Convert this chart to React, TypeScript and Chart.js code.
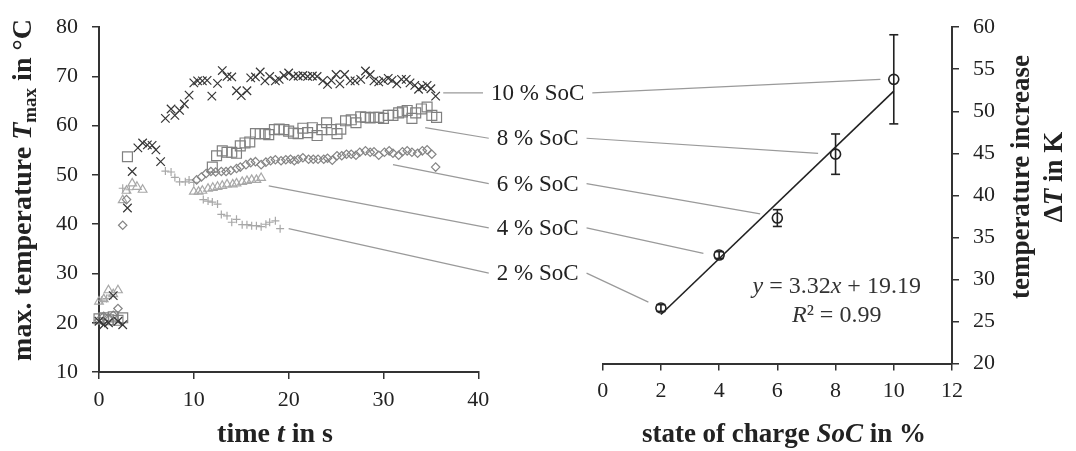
import React, { useEffect, useRef } from 'react';
import { Chart, registerables } from 'chart.js';

Chart.register(...registerables);

const FONT = "'Liberation Serif', 'Times New Roman', serif";

// ---------- left chart: max. temperature over time, [t in s, T in °C] ----------
const soc10: number[][] = [
  [0, 20.3], [0.5, 19.6], [1, 20.0], [1.5, 25.5], [2, 20.3], [2.5, 19.6], [3, 43.3], [3.5, 50.7],
  [4.1, 55.5], [4.6, 56.5], [5.1, 56.1], [5.6, 56.0], [6, 55.1], [6.5, 52.7], [7, 61.5], [7.6, 63.4],
  [8, 62.1], [8.5, 63.1], [9, 64.4], [9.5, 66.2], [10, 68.7], [10.4, 69.1], [10.9, 69.1], [11.4, 69.2],
  [11.9, 66.0], [12.5, 68.6], [13, 71.2], [13.5, 70.0], [14, 69.9], [14.5, 67.1], [15, 66.1], [15.6, 67.1],
  [16, 69.7], [16.5, 69.9], [17, 70.9], [17.5, 69.1], [18, 70.0], [18.6, 69.1], [19, 69.4], [19.5, 70.2],
  [20, 70.7], [20.5, 70.0], [21, 70.1], [21.5, 70.2], [22, 70.0], [22.5, 70.1], [23, 70.0], [23.6, 69.1],
  [24.1, 68.4], [24.5, 69.2], [25, 70.4], [25.4, 68.5], [25.9, 70.4], [26.5, 69.1], [27, 69.1], [27.6, 69.4],
  [28.1, 71.1], [28.6, 70.4], [29, 69.1], [29.5, 68.9], [30, 69.2], [30.5, 69.6], [30.9, 69.2], [31.4, 68.5],
  [31.9, 69.4], [32.4, 69.4], [32.8, 68.7], [33.3, 68.2], [33.7, 67.4], [34.1, 67.9], [34.6, 68.2], [35, 67.5],
  [35.5, 66.0],
];
const soc8: number[][] = [
  [0, 20.8], [0.5, 21.0], [1, 20.6], [1.5, 21.2], [2, 20.5], [2.5, 21.0], [3, 53.7], [11.95, 51.6],
  [12.4, 53.9], [13, 54.9], [13.5, 54.6], [14, 54.6], [14.5, 54.4], [14.9, 55.9], [15.4, 56.5], [15.9, 56.7],
  [16.5, 58.4], [17, 58.4], [17.5, 58.4], [17.9, 58.2], [18.5, 59.2], [19, 59.3], [19.5, 59.2], [20, 58.9],
  [20.5, 58.5], [21, 58.4], [21.5, 59.5], [22, 58.6], [22.5, 59.6], [23, 58.0], [23.5, 59.2], [24, 60.6],
  [24.5, 59.2], [25.1, 58.4], [25.5, 59.3], [26, 61.0], [26.6, 61.2], [27.1, 60.6], [27.6, 61.8], [28.1, 61.7],
  [28.6, 61.6], [29, 61.7], [29.5, 61.7], [30, 61.5], [30.5, 62.1], [31, 62.1], [31.6, 62.6], [32, 62.8],
  [32.5, 63.1], [33, 61.5], [33.4, 62.6], [34, 63.4], [34.6, 63.8], [35.1, 62.1], [35.6, 61.7],
];
const soc6: number[][] = [
  [0, 20.5], [0.5, 21.3], [1, 21.0], [1.5, 21.5], [2, 22.9], [2.5, 39.8], [2.9, 45.0], [10.3, 49.0],
  [10.8, 49.6], [11.3, 50.3], [11.8, 50.7], [12.3, 50.6], [12.9, 50.7], [13.4, 50.7], [13.9, 50.9], [14.5, 51.3],
  [14.9, 51.6], [15.5, 52.1], [16, 52.5], [16.5, 52.7], [17.1, 52.1], [17.6, 52.6], [18.1, 52.9], [18.6, 53.1],
  [19.2, 52.9], [19.7, 53.1], [20.2, 53.2], [20.6, 52.9], [21, 53.2], [21.5, 53.5], [22.1, 53.2], [22.6, 53.2],
  [23.1, 53.2], [23.7, 53.2], [24.1, 53.4], [24.6, 53.0], [25.1, 53.9], [25.6, 53.9], [26.1, 54.2], [26.6, 54.2],
  [27.1, 54.0], [27.5, 54.6], [28.1, 54.9], [28.6, 54.6], [29, 54.7], [29.5, 54.0], [30.1, 54.6], [30.6, 54.9],
  [31, 54.4], [31.6, 54.0], [32, 54.7], [32.5, 54.9], [33, 54.6], [33.6, 54.4], [34.1, 54.9], [34.6, 55.1],
  [35.1, 54.2], [35.5, 51.6],
];
const soc4: number[][] = [
  [0, 24.3], [0.5, 24.8], [1, 26.6], [1.5, 25.8], [2, 26.6], [2.5, 44.9], [2.9, 46.8], [3.5, 48.3],
  [4.0, 47.6], [4.6, 47.0], [10, 46.6], [10.5, 46.6], [10.9, 46.8], [11.5, 47.2], [12, 47.4], [12.5, 47.6],
  [13, 47.8], [13.5, 48.1], [14.1, 48.1], [14.5, 48.3], [15.1, 48.6], [15.6, 48.8], [16.1, 49.0], [16.6, 49.0],
  [17.1, 49.4],
];
const soc2: number[][] = [
  [0.3, 24.6], [0.8, 24.9], [1.3, 25.6], [1.8, 20.5], [2.5, 47.3], [3.2, 47.0], [7, 50.8], [7.6, 50.6],
  [8, 49.5], [8.5, 48.6], [9.1, 48.6], [9.5, 49.0], [10, 48.5], [11, 45.0], [11.5, 44.7], [11.95, 44.5],
  [12.5, 44.1], [12.9, 42.0], [13.5, 41.7], [14, 40.4], [14.5, 41.0], [15.1, 39.9], [15.6, 39.9], [16.1, 39.7],
  [16.6, 39.7], [17.1, 39.5], [17.6, 40.0], [18, 40.4], [18.6, 40.7], [19.1, 39.1],
];

// ---------- right chart: temperature increase over state of charge ----------
const socX = [2, 4, 6, 8, 10];
const deltaT = [26.6, 32.9, 37.3, 44.9, 53.8];
const errLow = [26.2, 32.5, 36.3, 42.5, 48.5];
const errHigh = [27.0, 33.3, 38.3, 47.3, 59.1];
const fitX = [2, 10];
const fitY = [25.83, 52.39];

// ---------- tick settings ----------
const timeTicks = { min: 0, max: 40, step: 10 };
const tempTicks = { min: 10, max: 80, step: 10 };
const socTicks = { min: 0, max: 12, step: 2 };
const dtTicks = { min: 20, max: 60, step: 5 };

// ---------- annotations (labels + leader lines) ----------
const socLabels = ['10 % SoC', '8 % SoC', '6 % SoC', '4 % SoC', '2 % SoC'];
const labelTime = 46.26; // horizontal label centre, in left-chart time units
const labelTemp = [66.65, 57.46, 48.26, 39.27, 30.07];
const leaderLeftTime = [36.3, 34.4, 31.0, 17.9, 20.0];
const leaderLeftTemp = [66.65, 59.6, 52.1, 47.8, 39.1];
const leaderRightSoc = [9.54, 7.4, 5.41, 3.46, 1.57];
const leaderRightDT = [53.8, 45.0, 37.8, 33.1, 27.3];

const eqLine1 = [['y', 'i'], [' = 3.32', 'n'], ['x', 'i'], [' + 19.19', 'n']];
const eqLine2 = [['R', 'i'], ['² = 0.99', 'n']];

type Seg = { t: string; f: string; dy?: number };

function drawRich(ctx: CanvasRenderingContext2D, segs: Seg[], x: number, y: number, angle: number) {
  ctx.save();
  ctx.translate(x, y);
  ctx.rotate(angle);
  ctx.textAlign = 'left';
  ctx.textBaseline = 'alphabetic';
  let total = 0;
  const ws = segs.map((s) => {
    ctx.font = s.f;
    const w = ctx.measureText(s.t).width;
    total += w;
    return w;
  });
  let cx = -total / 2;
  segs.forEach((s, i) => {
    ctx.font = s.f;
    ctx.fillText(s.t, cx, s.dy || 0);
    cx += ws[i];
  });
  ctx.restore();
}

const B = `bold 27px ${FONT}`;
const BI = `bold italic 27px ${FONT}`;
const BL = `bold 28px ${FONT}`;
const BLI = `bold italic 28px ${FONT}`;
const BS = `bold 19px ${FONT}`;

const RIGHT_SHIFT = 8.5; // right panel sits slightly higher than the left one

const customPlugin = {
  id: 'custom',
  afterLayout(chart: any) {
    const y2 = chart.scales.y2;
    const x2 = chart.scales.x2;
    y2.bottom -= RIGHT_SHIFT;
    y2.height = y2.bottom - y2.top;
    y2.configure();
    y2._gridLineItems = null;
    y2._labelItems = null;
    x2.top -= RIGHT_SHIFT;
    x2.bottom -= RIGHT_SHIFT;
    x2.configure();
    x2._gridLineItems = null;
    x2._labelItems = null;
  },
  afterDatasetsDraw(chart: any) {
    const { ctx } = chart;
    const { x1, y1, x2, y2 } = chart.scales;
    ctx.save();
    ctx.font = `23px ${FONT}`;
    ctx.fillStyle = '#222';
    ctx.textAlign = 'center';
    ctx.textBaseline = 'middle';
    ctx.strokeStyle = '#9a9a9a';
    ctx.lineWidth = 1.2;
    socLabels.forEach((lab, i) => {
      const cx = x1.getPixelForValue(labelTime);
      const cy = y1.getPixelForValue(labelTemp[i]);
      const w = ctx.measureText(lab).width;
      ctx.fillText(lab, cx, cy + 1);
      ctx.beginPath();
      ctx.moveTo(x1.getPixelForValue(leaderLeftTime[i]), y1.getPixelForValue(leaderLeftTemp[i]));
      ctx.lineTo(cx - w / 2 - 8, cy);
      ctx.moveTo(cx + w / 2 + 8, cy);
      ctx.lineTo(x2.getPixelForValue(leaderRightSoc[i]), y2.getPixelForValue(leaderRightDT[i]));
      ctx.stroke();
    });
    ctx.restore();
  },
  afterDraw(chart: any) {
    const { ctx } = chart;
    ctx.save();
    ctx.fillStyle = '#222';
    drawRich(ctx, [
      { t: 'max. temperature ', f: BL },
      { t: 'T', f: BLI },
      { t: 'max', f: BS, dy: 5 },
      { t: ' in °C', f: BL },
    ], 31, 190, -Math.PI / 2);
    drawRich(ctx, [{ t: 'temperature increase', f: B }], 1029, 177, -Math.PI / 2);
    drawRich(ctx, [
      { t: 'Δ', f: B },
      { t: 'T', f: BI },
      { t: ' in K', f: B },
    ], 1062, 177, -Math.PI / 2);
    drawRich(ctx, [
      { t: 'time ', f: BL },
      { t: 't', f: BLI },
      { t: ' in s', f: BL },
    ], 275, 441.5, 0);
    drawRich(ctx, [
      { t: 'state of charge ', f: B },
      { t: 'SoC', f: BI },
      { t: ' in %', f: B },
    ], 784, 441.5, 0);
    ctx.fillStyle = '#333';
    const eqFont = (k: string) => (k === 'i' ? `italic 24px ${FONT}` : `24px ${FONT}`);
    drawRich(ctx, eqLine1.map(([t, k]) => ({ t, f: eqFont(k) })), 836.7, 293.3, 0);
    drawRich(ctx, eqLine2.map(([t, k]) => ({ t, f: eqFont(k) })), 836.7, 321.7, 0);
    ctx.restore();
  },
};

const toXY = (pairs: number[][]) => pairs.map(([x, y]) => ({ x, y }));

function leftSeries(label: string, pairs: number[][], style: string, color: string, radius: number) {
  return {
    type: 'scatter',
    label,
    data: toXY(pairs),
    xAxisID: 'x1',
    yAxisID: 'y1',
    pointStyle: style,
    pointRadius: radius,
    pointBorderColor: color,
    pointBackgroundColor: 'rgba(0,0,0,0)',
    pointBorderWidth: 1.2,
    showLine: false,
    clip: false,
  };
}

const tickFont = { family: FONT, size: 22 };
const AXIS = '#333';

function axisCommon(extra: any) {
  return {
    type: 'linear',
    grid: { drawOnChartArea: false, drawTicks: true, tickLength: 7, color: AXIS, lineWidth: 1.5 },
    border: { display: true, color: AXIS, width: 2 },
    ...extra,
  };
}

export default function App() {
  const ref = useRef<HTMLCanvasElement>(null);
  useEffect(() => {
    const canvas = ref.current;
    if (!canvas) return;

    const errData: any[] = [];
    socX.forEach((s, i) => {
      errData.push({ x: s, y: errLow[i] }, { x: s, y: errHigh[i] }, { x: s, y: null });
    });

    const chart = new Chart(canvas, {
      type: 'scatter',
      data: {
        datasets: [
          leftSeries('10 % SoC', soc10, 'crossRot', '#363636', 6),
          leftSeries('8 % SoC', soc8, 'rect', '#808080', 7),
          leftSeries('6 % SoC', soc6, 'rectRot', '#858585', 4.2),
          leftSeries('4 % SoC', soc4, 'triangle', '#a8a8a8', 5),
          leftSeries('2 % SoC', soc2, 'cross', '#a8a8a8', 4),
          {
            type: 'line',
            label: 'fit',
            data: fitX.map((x, i) => ({ x, y: fitY[i] })),
            xAxisID: 'x2',
            yAxisID: 'y2',
            borderColor: '#222',
            borderWidth: 1.6,
            pointRadius: 0,
            clip: false,
          },
          {
            type: 'line',
            label: 'error',
            data: errData,
            xAxisID: 'x2',
            yAxisID: 'y2',
            borderColor: '#222',
            borderWidth: 1.6,
            spanGaps: false,
            pointStyle: 'line',
            pointRadius: 4.5,
            pointBorderColor: '#222',
            pointBorderWidth: 1.6,
            clip: false,
          },
          {
            type: 'scatter',
            label: 'mean',
            data: socX.map((x, i) => ({ x, y: deltaT[i] })),
            xAxisID: 'x2',
            yAxisID: 'y2',
            pointStyle: 'circle',
            pointRadius: 5,
            pointBorderColor: '#222',
            pointBackgroundColor: 'rgba(0,0,0,0)',
            pointBorderWidth: 1.6,
            showLine: false,
            clip: false,
          },
        ] as any,
      },
      options: {
        responsive: false,
        animation: false,
        devicePixelRatio: 1,
        layout: { padding: { left: 0, right: 0, top: 17, bottom: 0 } },
        plugins: { legend: { display: false }, tooltip: { enabled: false }, title: { display: false } },
        scales: {
          x1: axisCommon({
            position: 'bottom',
            stack: 'xs',
            stackWeight: 379.3,
            min: timeTicks.min,
            max: timeTicks.max,
            ticks: { stepSize: timeTicks.step, font: tickFont, color: '#222', padding: 8, maxRotation: 0, autoSkip: false },
            afterFit: (s: any) => { s.height = 79; },
          }),
          gap: {
            type: 'linear',
            position: 'bottom',
            stack: 'xs',
            stackWeight: 124.4,
            min: 0,
            max: 1,
            ticks: { display: false },
            grid: { display: false },
            border: { display: false },
            afterFit: (s: any) => { s.height = 79; },
          },
          x2: axisCommon({
            position: 'bottom',
            stack: 'xs',
            stackWeight: 349.3,
            min: socTicks.min,
            max: socTicks.max,
            ticks: { stepSize: socTicks.step, font: tickFont, color: '#222', padding: 8, maxRotation: 0, autoSkip: false },
            afterFit: (s: any) => { s.height = 79; },
          }),
          y1: axisCommon({
            position: 'left',
            min: tempTicks.min,
            max: tempTicks.max,
            ticks: { stepSize: tempTicks.step, font: tickFont, color: '#222', padding: 14 },
            afterFit: (s: any) => { s.width = 99; },
          }),
          y2: axisCommon({
            position: 'right',
            min: dtTicks.min,
            max: dtTicks.max,
            ticks: { stepSize: dtTicks.step, font: tickFont, color: '#222', padding: 14 },
            afterFit: (s: any) => { s.width = 124; },
          }),
        },
      } as any,
      plugins: [customPlugin as any],
    });
    return () => chart.destroy();
  }, []);

  return (
    <div style={{ position: 'fixed', left: 0, top: 0, width: 1076, height: 451, background: '#fff' }}>
      <canvas ref={ref} width={1076} height={451} style={{ display: 'block' }} />
    </div>
  );
}
